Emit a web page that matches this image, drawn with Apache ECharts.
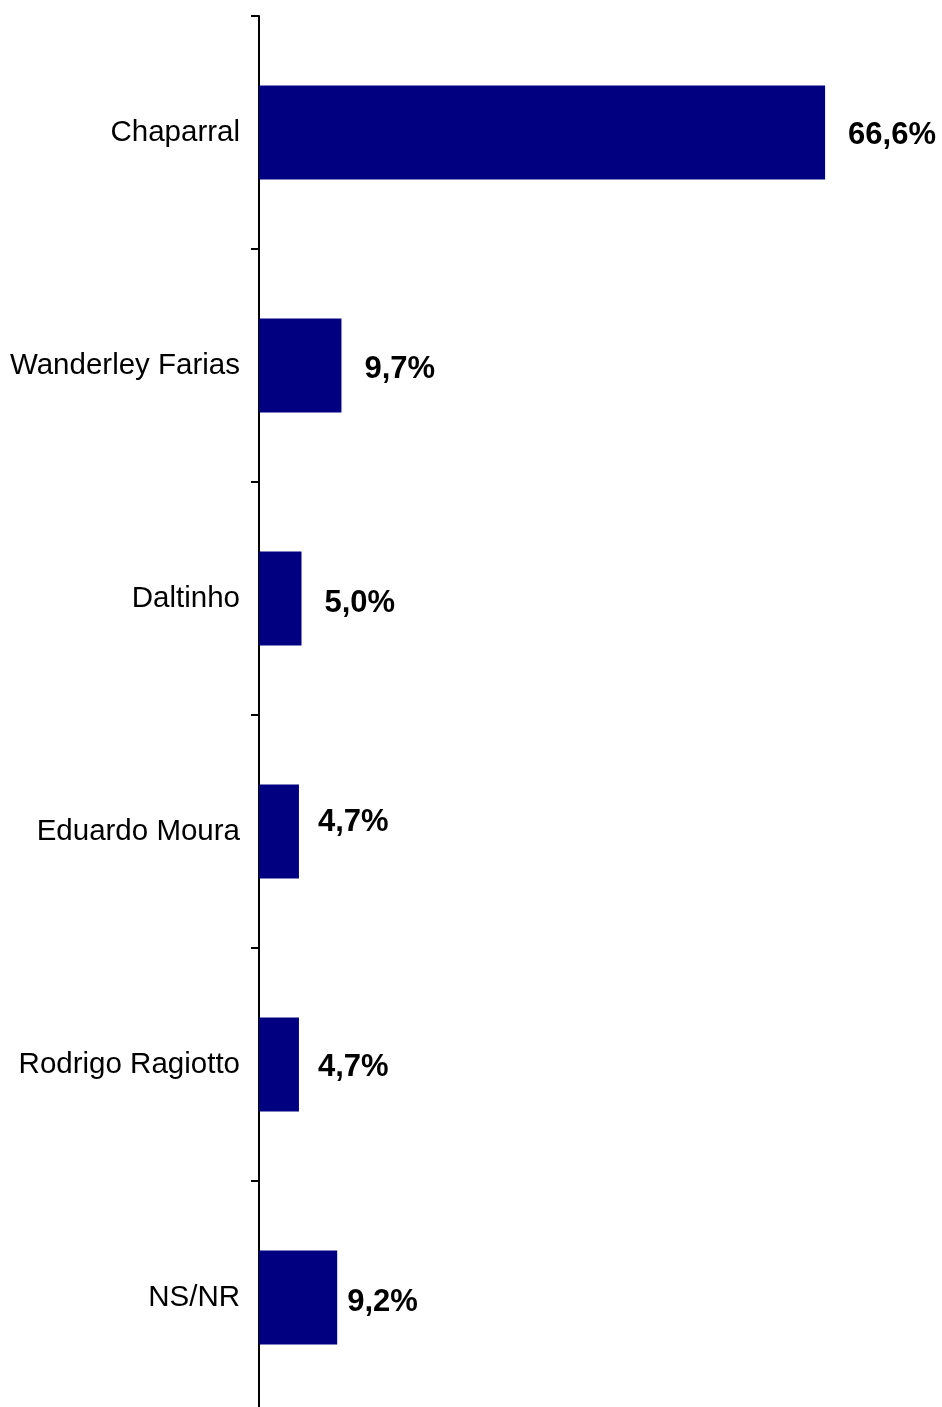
<!DOCTYPE html>
<html>
<head>
<meta charset="utf-8">
<script src="https://cdn.jsdelivr.net/npm/echarts@6/dist/echarts.min.js"></script>
<style>
  html, body { margin: 0; padding: 0; background: #fff; }
  #chart { width: 942px; height: 1407px; }
</style>
</head>
<body>
<div id="chart"></div>
<script>
// candidatos e percentuais
const categories = ['Chaparral', 'Wanderley Farias', 'Daltinho', 'Eduardo Moura', 'Rodrigo Ragiotto', 'NS/NR']
const values = [66.6, 9.7, 5.0, 4.7, 4.7, 9.2]

// ajuste fino dos rótulos [dx, dy]
const labelNudge = [[0, 3], [0, 4], [0, 5], [-4, -9], [-4, 3], [-13, 5]]

const chart = echarts.init(document.getElementById('chart'))

chart.setOption({
  animation: false,
  backgroundColor: '#ffffff',
  grid: {
    left: 259,
    top: 16,
    width: 680,
    height: 1398,
    outerBoundsMode: 'none'
  },
  xAxis: {
    type: 'value',
    min: 0,
    max: 80,
    show: false
  },
  yAxis: {
    type: 'category',
    data: categories,
    inverse: true,
    axisLine: {
      show: true,
      lineStyle: { color: '#000', width: 2 }
    },
    axisTick: {
      show: true,
      inside: false,
      length: 8,
      lineStyle: { color: '#000', width: 2 }
    },
    axisLabel: {
      color: '#000',
      fontSize: 29.5,
      fontFamily: 'Liberation Sans, Arial, sans-serif',
      margin: 19
    },
    splitLine: { show: false }
  },
  series: [{
    type: 'bar',
    barWidth: 94,
    itemStyle: { color: '#000080' },
    data: values.map((v, i) => ({
      value: v,
      label: { offset: labelNudge[i] }
    })),
    label: {
      show: true,
      position: 'right',
      distance: 23,
      color: '#000',
      fontSize: 31,
      fontWeight: 'bold',
      fontFamily: 'Liberation Sans, Arial, sans-serif',
      formatter: p => p.value.toFixed(1).replace('.', ',') + '%'
    }
  }]
})
</script>
</body>
</html>
